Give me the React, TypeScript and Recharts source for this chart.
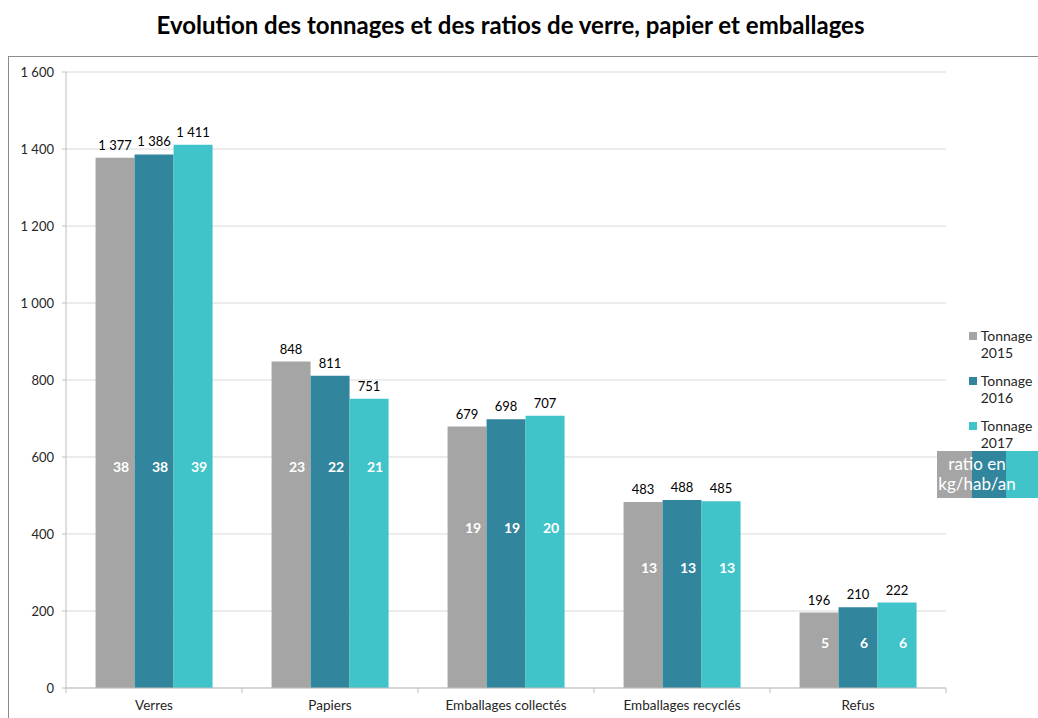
import React from "react";
import { BarChart, Bar, XAxis, YAxis, CartesianGrid, LabelList, Legend } from "recharts";

const categories = ["Verres", "Papiers", "Emballages collectés", "Emballages recyclés", "Refus"];
const tonnage2015 = [1377, 848, 679, 483, 196];
const tonnage2016 = [1386, 811, 698, 488, 210];
const tonnage2017 = [1411, 751, 707, 485, 222];
const ratio2015 = [38, 23, 19, 13, 5];
const ratio2016 = [38, 22, 19, 13, 6];
const ratio2017 = [39, 21, 20, 13, 6];
// level (in tonnes, on the axis) where the ratio labels sit
const ratioLevel = [575, 575, 418, 314, 119];
const yTicks = [0, 200, 400, 600, 800, 1000, 1200, 1400, 1600];

const COLORS = ["#a5a5a5", "#31859c", "#40c3c9"];
const FONT = "Lato, 'Open Sans', sans-serif";

const data = categories.map((name, i) => ({
  name,
  t2015: tonnage2015[i],
  t2016: tonnage2016[i],
  t2017: tonnage2017[i],
  r2015: ratio2015[i],
  r2016: ratio2016[i],
  r2017: ratio2017[i],
}));

const fmt = (v: number) => String(v).replace(/\B(?=(\d{3})+(?!\d))/g, " ");

const W = 1038;
const H = 718;
const M = { top: 72, right: 92, bottom: 0, left: 16 };
const YW = 50;
const PLOT_W = W - M.left - M.right - YW;
const BAND = PLOT_W / categories.length;

function ratioLabel(valueKey: string) {
  return (props: any) => {
    const { x, y, width, height, value, index } = props;
    const barValue = (data[index] as any)[valueKey];
    const base = y + height;
    const ly = base - ratioLevel[index] * (height / barValue);
    return (
      <text
        x={x + width / 2 + 6}
        y={ly}
        textAnchor="middle"
        dominantBaseline="central"
        fill="#fff"
        fontWeight={700}
        fontSize={14}
        fontFamily={FONT}
      >
        {value}
      </text>
    );
  };
}

const valueLabel = (props: any) => {
  const { x, y, width, value } = props;
  return (
    <text x={x + width / 2} y={y - 13} textAnchor="middle" dominantBaseline="central" fontSize={13} fill="#000" fontFamily={FONT}>
      {fmt(value)}
    </text>
  );
};

const XTick = (props: any) => {
  const { x, y, payload, index } = props;
  const left = x - BAND / 2;
  return (
    <g>
      <line x1={left} x2={left} y1={y} y2={y + 5} stroke="#bfbfbf" />
      {index === categories.length - 1 && (
        <line x1={x + BAND / 2} x2={x + BAND / 2} y1={y} y2={y + 5} stroke="#bfbfbf" />
      )}
      <text x={x} y={y + 17} textAnchor="middle" dominantBaseline="central" fontSize={13.5} fill="#262626" fontFamily={FONT}>
        {payload.value}
      </text>
    </g>
  );
};

const legendItems = ["Tonnage 2015", "Tonnage 2016", "Tonnage 2017"];

const LegendBox = () => (
  <div style={{ fontFamily: FONT, fontSize: 14, color: "#262626" }}>
    {legendItems.map((label, i) => (
      <div key={label} style={{ display: "flex", alignItems: "flex-start", marginLeft: 32, height: 45 }}>
        <div style={{ width: 8, height: 8, background: COLORS[i], marginTop: 5, marginRight: 4 }} />
        <div style={{ lineHeight: "17px", width: 60 }}>
          {label.split(" ")[0]}
          <br />
          {label.split(" ")[1]}
        </div>
      </div>
    ))}
    <div style={{ position: "relative", width: 101, height: 47, marginTop: -11 }}>
      <div style={{ position: "absolute", left: 0, top: 0, width: 35, height: 47, background: COLORS[0] }} />
      <div style={{ position: "absolute", left: 35, top: 0, width: 34, height: 47, background: COLORS[1] }} />
      <div style={{ position: "absolute", left: 69, top: 0, width: 32, height: 47, background: COLORS[2] }} />
      <div
        style={{
          position: "absolute",
          left: 0,
          top: 3,
          width: 80,
          textAlign: "center",
          color: "#fff",
          fontSize: 17,
          lineHeight: "20px",
        }}
      >
        ratio en
        <br />
        kg/hab/an
      </div>
    </div>
  </div>
);

export default function App() {
  return (
    <div style={{ position: "relative", width: W, height: H, fontFamily: FONT, overflow: "hidden" }}>
      <style>{"body{margin:0;overflow:hidden}"}</style>
      <div
        style={{
          position: "absolute",
          left: 8,
          top: 56,
          width: W,
          height: H,
          borderLeft: "1px solid #8c8c8c",
          borderTop: "1px solid #8c8c8c",
          boxSizing: "border-box",
        }}
      />
      <div
        style={{
          position: "absolute",
          left: 0,
          width: 1021,
          top: 10,
          textAlign: "center",
          fontSize: 24,
          fontWeight: 700,
          color: "#000",
        }}
      >
        Evolution des tonnages et des ratios de verre, papier et emballages
      </div>
      <BarChart
        width={W}
        height={H}
        data={data}
        margin={M}
        barCategoryGap="16.8%"
        barGap={0}
        style={{ position: "absolute", left: 0, top: 0 }}
      >
        <CartesianGrid vertical={false} stroke="#d9d9d9" />
        <XAxis
          dataKey="name"
          height={30}
          stroke="#bfbfbf"
          tickSize={0}
          tickMargin={0}
          tick={<XTick />}
          interval={0}
        />
        <YAxis
          width={YW}
          domain={[0, 1600]}
          ticks={yTicks}
          tickFormatter={fmt}
          stroke="#bfbfbf"
          tickSize={4}
          tickMargin={8}
          tick={{ fontSize: 13, fill: "#262626", fontFamily: FONT }}
        />
        <Legend
          layout="horizontal"
          verticalAlign="middle"
          align="center"
          wrapperStyle={{ position: "absolute", left: 937, top: 327, width: 101 }}
          content={<LegendBox />}
        />
        {(["2015", "2016", "2017"] as const).map((yr, i) => (
          <Bar key={yr} dataKey={`t${yr}`} fill={COLORS[i]} isAnimationActive={false}>
            <LabelList dataKey={`t${yr}`} content={valueLabel} />
            <LabelList dataKey={`r${yr}`} content={ratioLabel(`t${yr}`)} />
          </Bar>
        ))}
      </BarChart>
    </div>
  );
}
